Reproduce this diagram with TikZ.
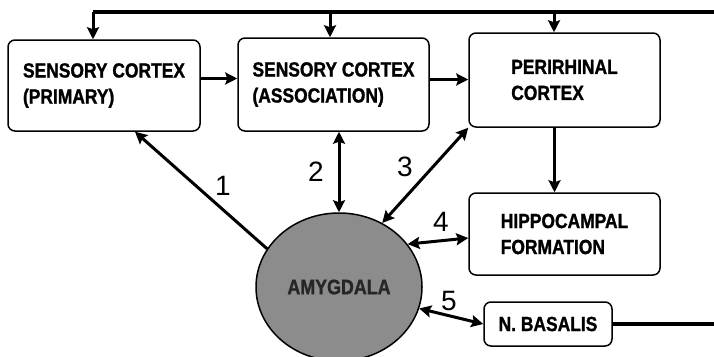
\documentclass[tikz,border=0pt]{standalone}
\usepackage{fontspec}
\newfontfamily\boxfont{Liberation Sans}[FakeStretch=0.85,FakeBold=1.2]
\newfontfamily\numfont{Liberation Sans}
\usetikzlibrary{arrows.meta,calc,positioning,shapes.geometric}
\tikzset{%
	block/.style    = {draw, rectangle, rounded corners=7pt, line width=1.5pt, align=left, font=\boxfont\bfseries\fontsize{20.5}{26}\selectfont},
	nucleus/.style  = {draw, ellipse, line width=1.5pt, fill=black!45, minimum width=166pt, minimum height=148pt, inner sep=0pt, text=black!85, font=\boxfont\bfseries\fontsize{21}{21}\selectfont},
	num/.style      = {inner sep=0pt, font=\numfont\fontsize{28}{28}\selectfont},
	arrow/.style    = {line width=3pt, -{Stealth[length=12pt,width=12pt,inset=2pt]}},
	biarrow/.style  = {line width=3pt, {Stealth[length=12pt,width=12pt,inset=2pt]}-{Stealth[length=12pt,width=12pt,inset=2pt]}},
	feedback/.style = {line width=3.4pt},
}

\begin{document}
\begin{tikzpicture}[x=1pt, y=-1pt]
	\useasboundingbox[fill=white] (0,0) rectangle (714,356);

	\node[block, minimum width=192pt, minimum height=91pt] (prim) at (104,85.5) {SENSORY CORTEX\\(PRIMARY)};
	\node[block, minimum width=191pt, minimum height=93pt] (assoc) at (333.5,84.5) {SENSORY CORTEX\\(ASSOCIATION)};
	\node[block, minimum width=191pt, minimum height=94pt] (peri) at (564.5,80) {PERIRHINAL\\CORTEX};
	\node[block, minimum width=191pt, minimum height=82pt, below of=peri, node distance=154pt] (hipp) {HIPPOCAMPAL\\FORMATION};
	\node[block, minimum width=128pt, minimum height=44pt] (basal) at (548,324) {N. BASALIS};
	\node[nucleus] (amyg) at (339,287) {\raisebox{-7pt}{AMYGDALA}};

	\node[num] (n1) at (223,186) {1};
	\node[num] (n2) at (316,172) {2};
	\node[num] (n3) at (405,167) {3};
	\node[num] (n4) at (441,222) {4};
	\node[num] (n5) at (449,301) {5};

	% loop back from n. basalis over the top
	\coordinate (fb1) at (93,12);
	\coordinate (fb2) at (330,12);
	\coordinate (fb3) at (554,12);
	\coordinate (fbend) at (722,12);
	\draw[feedback] (basal.east) -- (basal.east -| fbend) -- (fbend) -- (fb1);
	\draw[arrow] (fb1) -- (fb1 |- prim.north);
	\draw[arrow] (fb2) -- (fb2 |- assoc.north);
	\draw[arrow] (fb3) -- (fb3 |- peri.north);

	\draw[arrow] ([yshift=7pt]prim.east) -- ([yshift=7pt]prim.east -| assoc.west);
	\draw[arrow] ([yshift=5pt]assoc.east) -- ([yshift=5pt]assoc.east -| peri.west);
	\draw[arrow] ([xshift=-10pt]peri.south) -- ([xshift=-10pt]peri.south |- hipp.north);

	\draw[arrow] (amyg.152) -- ([xshift=31pt]prim.south);
	\draw[biarrow] (amyg.north) -- (amyg.north |- assoc.south);
	\draw[biarrow] (amyg.56) -- (peri.south west);
	\draw[biarrow] (amyg.32) -- ([yshift=-4pt]hipp.west);
	\draw[biarrow] (amyg.-15) -- (basal.west);
\end{tikzpicture}
\end{document}
